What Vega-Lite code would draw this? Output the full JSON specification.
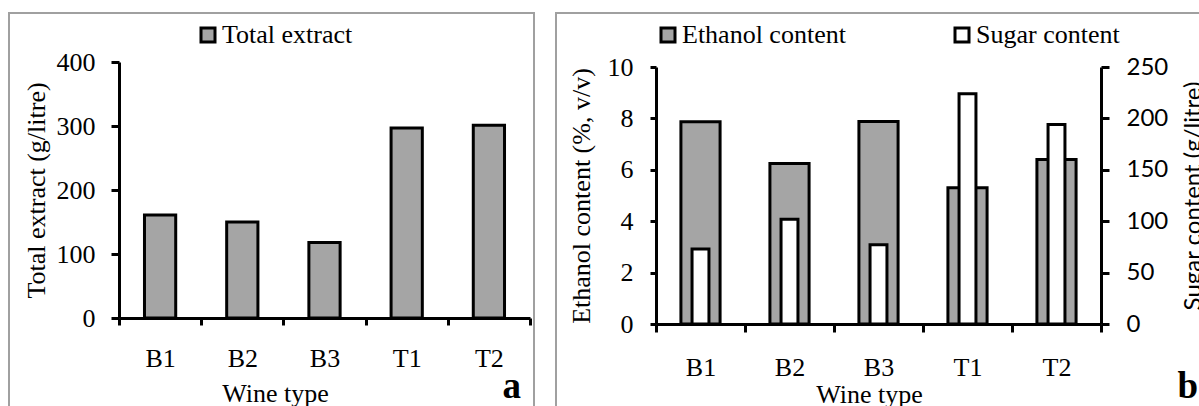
{
  "$schema": "https://vega.github.io/schema/vega-lite/v6.json",
  "background": "white",
  "padding": {"left": 8, "top": 12, "right": 0, "bottom": 0},
  "spacing": 20,
  "resolve": {"scale": {"color": "independent"}, "legend": {"color": "independent"}},
  "config": {
    "font": "Liberation Serif",
    "view": {"stroke": "#a0a0a0", "strokeWidth": 2},
    "axis": {
      "domainColor": "black", "domainWidth": 3, "tickColor": "black", "tickWidth": 3,
      "labelFont": "Liberation Serif", "labelFontSize": 26, "labelColor": "black",
      "titleFont": "Liberation Serif", "titleFontSize": 26, "titleFontWeight": "normal", "titleColor": "black",
      "grid": false
    },
    "legend": {
      "symbolType": "square", "symbolSize": 196, "symbolStrokeColor": "black", "symbolStrokeWidth": 3,
      "labelFont": "Liberation Serif", "labelFontSize": 26, "labelColor": "black", "labelLimit": 400,
      "labelOffset": 1, "padding": 0
    }
  },
  "datasets": {
    "extract": [
      {"wine": "B1", "series": "Total extract", "value": 161},
      {"wine": "B2", "series": "Total extract", "value": 150},
      {"wine": "B3", "series": "Total extract", "value": 118},
      {"wine": "T1", "series": "Total extract", "value": 297},
      {"wine": "T2", "series": "Total extract", "value": 301}
    ],
    "ethanol": [
      {"wine": "B1", "series": "Ethanol content", "value": 7.87},
      {"wine": "B2", "series": "Ethanol content", "value": 6.25},
      {"wine": "B3", "series": "Ethanol content", "value": 7.88},
      {"wine": "T1", "series": "Ethanol content", "value": 5.3},
      {"wine": "T2", "series": "Ethanol content", "value": 6.4}
    ],
    "sugar": [
      {"wine": "B1", "series": "Sugar content", "value": 73},
      {"wine": "B2", "series": "Sugar content", "value": 102},
      {"wine": "B3", "series": "Sugar content", "value": 77},
      {"wine": "T1", "series": "Sugar content", "value": 224},
      {"wine": "T2", "series": "Sugar content", "value": 194}
    ]
  },
  "hconcat": [
    {
      "width": 525,
      "height": 400,
      "data": {"name": "extract"},
      "title": {"text": "a", "orient": "bottom", "anchor": "end", "frame": "group", "font": "Liberation Serif", "fontSize": 37, "fontWeight": "bold", "color": "black", "baseline": "bottom", "offset": -7, "dx": -13},
      "mark": {"type": "bar", "width": {"band": 0.38}, "stroke": "black", "strokeWidth": 3},
      "encoding": {
        "x": {
          "field": "wine", "type": "nominal", "sort": null,
          "scale": {"paddingInner": 0, "paddingOuter": 0, "range": [110, 521]},
          "axis": {"title": "Wine type", "labelAngle": 0, "tickBand": "extent", "tickSize": 7, "labelPadding": 20, "titlePadding": 9, "titleX": 266, "offset": -95,
            "labelFont": "Liberation Serif", "titleFont": "Liberation Serif", "labelFontSize": 26, "titleFontSize": 26, "domainWidth": 3, "tickWidth": 3, "domainColor": "black", "tickColor": "black"}
        },
        "y": {
          "field": "value", "type": "quantitative",
          "scale": {"domain": [0, 400], "nice": false, "range": [305, 49]},
          "axis": {"title": "Total extract (g/litre)", "values": [0, 100, 200, 300, 400], "tickSize": 8, "labelPadding": 16, "titlePadding": 7, "offset": -110,
            "labelFont": "Liberation Serif", "titleFont": "Liberation Serif", "labelFontSize": 26, "titleFontSize": 26, "domainWidth": 3, "tickWidth": 3, "domainColor": "black", "tickColor": "black"}
        },
        "color": {
          "field": "series", "type": "nominal",
          "scale": {"domain": ["Total extract"], "range": ["#a5a5a5"]},
          "legend": {"orient": "none", "direction": "horizontal", "title": null, "legendX": 186, "legendY": 9}
        }
      }
    },
    {
      "width": 660,
      "height": 400,
      "title": {"text": "b", "orient": "bottom", "anchor": "end", "frame": "group", "font": "Liberation Serif", "fontSize": 37, "fontWeight": "bold", "color": "black", "baseline": "bottom", "offset": -7, "dx": -18},
      "layer": [
        {
          "data": {"name": "ethanol"},
          "mark": {"type": "bar", "width": {"band": 0.44}, "stroke": "black", "strokeWidth": 3},
          "encoding": {
            "x": {
              "field": "wine", "type": "nominal", "sort": null,
              "scale": {"paddingInner": 0, "paddingOuter": 0, "range": [100, 545]},
              "axis": {"title": "Wine type", "labelAngle": 0, "tickBand": "extent", "tickSize": 8, "labelPadding": 22, "titlePadding": 1, "titleX": 313, "offset": -89,
                "labelFont": "Liberation Serif", "titleFont": "Liberation Serif", "labelFontSize": 26, "titleFontSize": 26, "domainWidth": 3, "tickWidth": 3, "domainColor": "black", "tickColor": "black"}
            },
            "y": {
              "field": "value", "type": "quantitative",
              "scale": {"domain": [0, 10], "nice": false, "range": [311, 54]},
              "axis": {"title": "Ethanol content (%, v/v)", "values": [0, 2, 4, 6, 8, 10], "tickSize": 6, "labelPadding": 17, "titlePadding": 13, "offset": -100,
                "labelFont": "Liberation Serif", "titleFont": "Liberation Serif", "labelFontSize": 26, "titleFontSize": 26, "domainWidth": 3, "tickWidth": 3, "domainColor": "black", "tickColor": "black"}
            },
            "color": {
              "field": "series", "type": "nominal",
              "scale": {"domain": ["Ethanol content", "Sugar content"], "range": ["#a5a5a5", "white"]},
              "legend": {"orient": "none", "direction": "horizontal", "title": null, "legendX": 99, "legendY": 9, "columnPadding": 103}
            }
          }
        },
        {
          "data": {"name": "sugar"},
          "mark": {"type": "bar", "width": {"band": 0.19}, "stroke": "black", "strokeWidth": 3},
          "encoding": {
            "x": {"field": "wine", "type": "nominal", "sort": null},
            "y": {
              "field": "value", "type": "quantitative",
              "scale": {"domain": [0, 250], "nice": false, "range": [311, 54]},
              "axis": {"orient": "right", "title": "Sugar content (g/litre)", "values": [0, 50, 100, 150, 200, 250], "tickSize": 8, "labelPadding": 17, "titlePadding": 14, "offset": -115,
                "labelFont": "Lato", "labelFontSize": 24, "titleFont": "Lato", "titleFontSize": 24, "titleAngle": 270, "titleBaseline": "top",
                "domainWidth": 3, "tickWidth": 3, "domainColor": "black", "tickColor": "black"}
            },
            "color": {"field": "series", "type": "nominal"}
          }
        }
      ],
      "resolve": {"scale": {"y": "independent"}}
    }
  ]
}
